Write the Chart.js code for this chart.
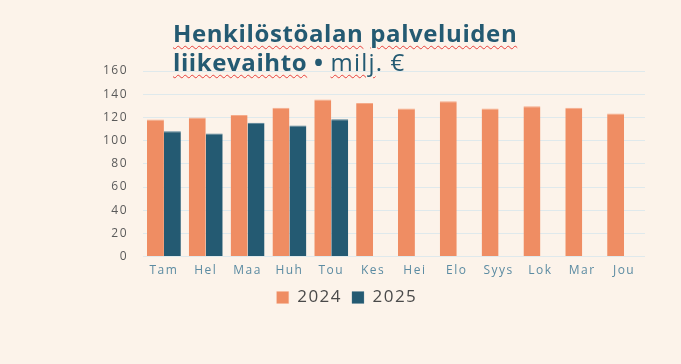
<!DOCTYPE html>
<html>
<head>
<meta charset="utf-8">
<script src="https://cdn.jsdelivr.net/npm/chart.js@4/dist/chart.umd.min.js"></script>
<style>
  html, body { margin: 0; padding: 0; background: #fcf3ea; }
  #wrap { position: relative; width: 681px; height: 364px; }
  #wrap canvas { position: absolute; left: 0; top: 0; }
  .title {
    position: absolute; left: 173px; top: 18px; margin: 0;
    font-family: "Open Sans", sans-serif; font-size: 24px; line-height: 29px;
    letter-spacing: 0.6px;
    color: #245a72; font-weight: 700;
  }
  .sq { text-decoration: underline wavy #e8403a; text-decoration-thickness: 1px; text-underline-offset: 3px; }
  .light { font-weight: 400; letter-spacing: 1.2px; }
</style>
</head>
<body>
<div id="wrap">
  <canvas id="chart" width="681" height="364"></canvas>
  <div class="title"><span class="sq">Henkilöstöalan</span> <span class="sq">palveluiden</span><br><span class="sq">liikevaihto</span> • <span class="light"><span class="sq">milj</span>. €</span></div>
</div>
<script>
  const months = ["Tam", "Hel", "Maa", "Huh", "Tou", "Kes", "Hei", "Elo", "Syys", "Lok", "Mar", "Jou"];
  const sales2024 = [118.2, 120.0, 122.0, 128.3, 135.5, 132.5, 127.7, 134.0, 127.7, 129.7, 128.3, 123.4];
  const sales2025 = [108.1, 106.1, 115.3, 113.0, 118.5, null, null, null, null, null, null, null];
  const yTicks = [0, 20, 40, 60, 80, 100, 120, 140, 160];

  // wider letter spacing like the original graphic
  const spacing = {
    id: "spacing",
    beforeLayout(chart) { chart.ctx.letterSpacing = "1.5px"; }
  };

  new Chart(document.getElementById("chart"), {
    type: "bar",
    data: {
      labels: months,
      datasets: [
        { label: "2024", data: sales2024, backgroundColor: "#ef8d63", borderColor: "#f5ab8a", borderWidth: { top: 1 }, borderSkipped: "bottom" },
        { label: "2025", data: sales2025, backgroundColor: "#245a72", borderColor: "#4f7f95", borderWidth: { top: 1 }, borderSkipped: "bottom" }
      ]
    },
    options: {
      responsive: false,
      animation: false,
      layout: { padding: { left: 49, right: 36, top: 71, bottom: 48 } },
      plugins: {
        tooltip: { enabled: false },
        legend: {
          position: "bottom",
          labels: {
            boxWidth: 12, boxHeight: 12, padding: 4,
            color: "#4a4a4a", font: { family: "Open Sans", size: 17 },
            generateLabels: (chart) => {
              const items = Chart.defaults.plugins.legend.labels.generateLabels(chart);
              items[0].text = items[0].text + " ";
              return items;
            }
          }
        }
      },
      datasets: { bar: { categoryPercentage: 0.81, barPercentage: 1.0 } },
      scales: {
        x: {
          grid: { display: false, drawTicks: false },
          border: { display: false },
          ticks: { color: "#5b8ba2", font: { family: "Open Sans", size: 12 }, padding: 7 }
        },
        y: {
          min: 0, max: 160,
          afterBuildTicks: (axis) => { axis.ticks = yTicks.map(v => ({ value: v })); },
          afterFit: (axis) => { axis.width = 94; },
          grid: { color: "#dfe9ec", drawTicks: false },
          border: { display: false },
          ticks: { color: "#5a5a5a", font: { family: "Open Sans", size: 12 }, padding: 15 }
        }
      }
    },
    plugins: [spacing]
  });
</script>
</body>
</html>
